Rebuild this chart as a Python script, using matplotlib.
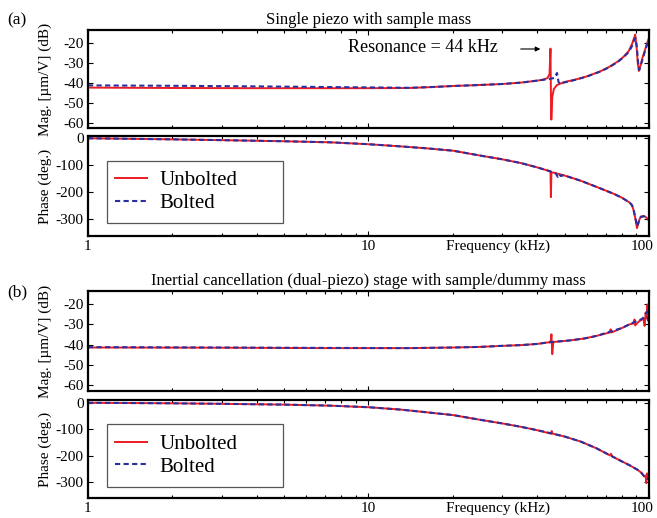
import matplotlib
matplotlib.use("Agg")
import matplotlib.pyplot as plt
from matplotlib.patches import Rectangle
import matplotlib.transforms as mtransforms

plt.rcParams['font.family'] = ['Liberation Serif', 'DejaVu Serif']
plt.rcParams['axes.unicode_minus'] = False
plt.rcParams['mathtext.fontset'] = 'stix'

RED = '#ec1c24'
BLUE = '#2b2f9e'

titles = ["Single piezo with sample mass",
          "Inertial cancellation (dual-piezo) stage with sample/dummy mass"]
panel_tags = ["(a)", "(b)"]
series_names = ["Unbolted", "Bolted"]
mag_ticks = [-20, -30, -40, -50, -60]
phase_ticks = [0, -100, -200, -300]
freq_ticks = [1, 10, 100]
freq_ticklabels = ["1", "10", "100"]

# ---- Panel (a): magnitude ----
a_mag_unb_f = [1, 2, 4, 7, 10, 14, 17, 20, 25, 30, 35, 40, 42, 43.5, 44.2, 44.55, 44.7, 44.85,
               45.2, 45.8, 47, 50, 55, 60, 67, 72, 77.5, 81, 84.7, 87, 88.5, 89.3, 90.2, 91.2,
               92, 93, 94.5, 96.5, 98.5, 100]
a_mag_unb = [-42.3, -42.5, -42.6, -42.6, -42.6, -42.5, -42.0, -41.5, -41.0, -40.5, -39.8, -38.8,
             -38.3, -37.5, -35.5, -22.8, -45, -58.3, -47, -43, -41, -39.5, -38.2, -36.7, -34.2,
             -32, -29.2, -27, -24, -20.5, -17.5, -15.8, -21, -30, -34, -32, -28, -24, -20, -17.5]
a_mag_bol_f = [1, 2, 4, 7, 10, 14, 17, 20, 25, 30, 35, 40, 44, 46, 47, 47.6, 48.3, 49.5, 52, 55,
               60, 67, 72, 77.5, 81, 84.7, 87, 88.5, 89.5, 90.5, 91.5, 92.3, 93.5, 95, 97, 100]
a_mag_bol = [-41.2, -41.4, -41.7, -42.0, -42.2, -42.4, -42.0, -41.5, -41.0, -40.5, -39.8, -38.8,
             -38.0, -37.5, -35.0, -39.5, -40.5, -39.8, -39.2, -38.3, -36.8, -34.3, -32.2, -29.4,
             -27.2, -24.5, -21.5, -18.5, -17.5, -22, -30, -33.5, -31, -28, -23.5, -18]

# ---- Panel (a): phase ----
a_ph_unb_f = [1, 2, 3, 5, 7.3, 10, 13, 16, 20, 25, 30, 35, 40, 44.3, 44.55, 44.7, 44.9, 46, 48,
              50, 57, 65, 75, 80, 85, 87, 88.2, 89.5, 90.6, 91.5, 92.5, 93.6, 96, 98, 100]
a_ph_unb = [0, -4, -7, -11, -15, -22, -30, -37, -46, -64, -78, -92, -108, -122, -124, -218, -126,
            -128, -133, -138, -157, -180, -206, -220, -237, -248, -268, -300, -333, -318, -300,
            -290, -288, -294, -305]
a_ph_bol_f = [1, 2, 3, 5, 7.3, 10, 13, 16, 20, 25, 30, 35, 40, 44.3, 46.5, 47.3, 47.8, 48.5, 49.5,
              50, 57, 65, 75, 80, 85, 87, 88.2, 89.5, 90.6, 91.5, 92.5, 93.6, 96, 98, 100]
a_ph_bol = [0, -4, -7, -11, -15, -22, -30, -37, -46, -64, -78, -92, -108, -122, -130, -143, -133,
            -140, -137, -138, -157, -180, -206, -220, -237, -248, -266, -296, -326, -316, -300,
            -291, -289, -295, -303]

# ---- Panel (b): magnitude ----
b_mag_unb_f = [1, 3, 7, 14, 20, 25, 29.6, 35, 40, 43.4, 44.6, 44.9, 45.2, 45.6, 47, 52, 58.8, 65,
               72.5, 73, 73.5, 80, 85, 88.3, 88.8, 89.3, 92, 94.5, 95.5, 96.5, 97.3, 98, 98.8,
               99.5, 100]
b_mag_unb = [-41.5, -41.6, -41.8, -41.8, -41.5, -41.2, -40.7, -40.3, -39.7, -39.0, -38.8, -34.9,
             -44.8, -38.7, -38.6, -38, -37, -35.7, -34, -32.4, -34, -31.8, -30, -29.5, -27.5,
             -30.5, -28.5, -27.5, -27, -30.7, -24, -27, -20, -28, -26.5]
b_mag_bol_f = [1, 3, 7, 14, 20, 25, 29.6, 35, 40, 43.4, 45.5, 47, 52, 58.8, 65, 73, 80, 85, 88,
               92, 95, 97, 98.5, 99.2, 100]
b_mag_bol = [-41.3, -41.5, -41.7, -41.8, -41.5, -41.2, -40.7, -40.3, -39.7, -39.0, -38.7, -38.5,
             -38, -37, -35.7, -33.5, -31.8, -30, -29, -28, -27, -25, -23.5, -28, -26]

# ---- Panel (b): phase ----
b_ph_unb_f = [1, 2, 3, 5, 7.3, 10, 13, 16, 20, 25, 30, 35, 40, 44.7, 45.0, 45.3, 50, 57, 65,
              72.5, 73.2, 74, 80, 85, 91, 94, 96.2, 97.3, 97.8, 98.4, 99, 100]
b_ph_unb = [2, 0, -2, -5, -9, -15, -24, -34, -45, -63, -77, -90, -103, -116, -106, -116, -127,
            -146, -172, -199, -193, -203, -222, -236, -254, -266, -280, -276, -305, -268, -285,
            -287]
b_ph_bol_f = [1, 2, 3, 5, 7.3, 10, 13, 16, 20, 25, 30, 35, 40, 45, 50, 57, 65, 73, 80, 85, 91,
              94, 96.2, 98, 99, 100]
b_ph_bol = [2, 0, -2, -5, -9, -15, -24, -34, -45, -63, -77, -90, -103, -115, -127, -146, -172,
            -200, -222, -236, -254, -266, -279, -284, -290, -286]

fig = plt.figure(figsize=(6.57, 5.18), dpi=100)

L, W = 0.1339, 0.8539
positions = [
    [L, 0.7529, W, 0.1892],
    [L, 0.5444, W, 0.1931],
    [L, 0.2452, W, 0.1930],
    [L, 0.0386, W, 0.1892],
]
axes = [fig.add_axes(p) for p in positions]

panels = [
    (a_mag_unb_f, a_mag_unb, a_mag_bol_f, a_mag_bol, a_ph_unb_f, a_ph_unb, a_ph_bol_f, a_ph_bol,
     (-62.5, -13.5), (-362, 8.5)),
    (b_mag_unb_f, b_mag_unb, b_mag_bol_f, b_mag_bol, b_ph_unb_f, b_ph_unb, b_ph_bol_f, b_ph_bol,
     (-63.2, -13.3), (-362, 12.6)),
]

def style(ax):
    ax.set_xscale('log')
    ax.set_xlim(1, 100)
    for s in ax.spines.values():
        s.set_linewidth(1.6)
    ax.tick_params(which='both', direction='in', top=True, right=True, labelsize=11,
                   width=0.8, pad=3)
    ax.tick_params(which='major', length=3.5)
    ax.tick_params(which='minor', length=2)

for i, (muf, mu, mbf, mb, puf, pu, pbf, pb, mlim, plim) in enumerate(panels):
    axm = axes[2 * i]
    axp = axes[2 * i + 1]
    style(axm)
    style(axp)
    axm.plot(muf, mu, color=RED, lw=1.4, solid_joinstyle='round')
    axm.plot(mbf, mb, color=BLUE, lw=1.5, dashes=(2.5, 1.6))
    axp.plot(puf, pu, color=RED, lw=1.4, label=series_names[0])
    axp.plot(pbf, pb, color=BLUE, lw=1.5, dashes=(2.5, 1.6), label=series_names[1])
    axm.set_ylim(*mlim)
    axp.set_ylim(*plim)
    axm.set_yticks(mag_ticks)
    axm.set_yticklabels([str(t) for t in mag_ticks])
    axp.set_yticks(phase_ticks)
    axp.set_yticklabels([str(t) for t in phase_ticks])
    axm.set_xticks(freq_ticks)
    axm.set_xticklabels([])
    axm.tick_params(which='both', labelbottom=False)
    axp.set_xticks(freq_ticks)
    axp.set_xticklabels(freq_ticklabels)
    # keep the last tick label inside the figure
    last = axp.get_xticklabels()[-1]
    last.set_horizontalalignment('right')
    last.set_transform(last.get_transform() +
                       mtransforms.ScaledTranslation(3 / 72, 0, fig.dpi_scale_trans))
    axm.set_ylabel("Mag. [µm/V] (dB)", fontsize=11)
    axp.set_ylabel("Phase (deg.)", fontsize=11)
    axm.yaxis.set_label_coords(-0.064, 0.5)
    axp.yaxis.set_label_coords(-0.064, 0.5)
    axp.set_xlabel("Frequency (kHz)", fontsize=11)
    axp.xaxis.set_label_coords(0.73, -0.035)
    axm.set_title(titles[i], fontsize=12, pad=4)

    # legend with wide rectangular frame
    top = 0.75 if i == 0 else 0.755
    bot = 0.13 if i == 0 else 0.112
    rect = Rectangle((0.034, bot), 0.314, top - bot, transform=axp.transAxes,
                     facecolor='white', edgecolor='#555555', lw=0.9, zorder=3)
    axp.add_patch(rect)
    leg = axp.legend(loc='center left', bbox_to_anchor=(0.048, (top + bot) / 2),
                     frameon=False, fontsize=15, handlelength=1.55, handletextpad=0.6,
                     labelspacing=0.15, borderpad=0, borderaxespad=0)
    leg.set_zorder(4)

fig.text(0.011, 0.961, panel_tags[0], fontsize=12.5, ha='left', va='center')
fig.text(0.011, 0.436, panel_tags[1], fontsize=12.5, ha='left', va='center')

ax0 = axes[0]
ax0.text(8.48, -22.5, "Resonance = 44 kHz", fontsize=13, ha='left', va='center')
ax0.annotate('', xy=(41.0, -23), xytext=(34.9, -23),
             arrowprops=dict(arrowstyle='-|>', color='black', lw=0.8, mutation_scale=7,
                             shrinkA=0, shrinkB=0))

fig.savefig("out.png", dpi=100)
